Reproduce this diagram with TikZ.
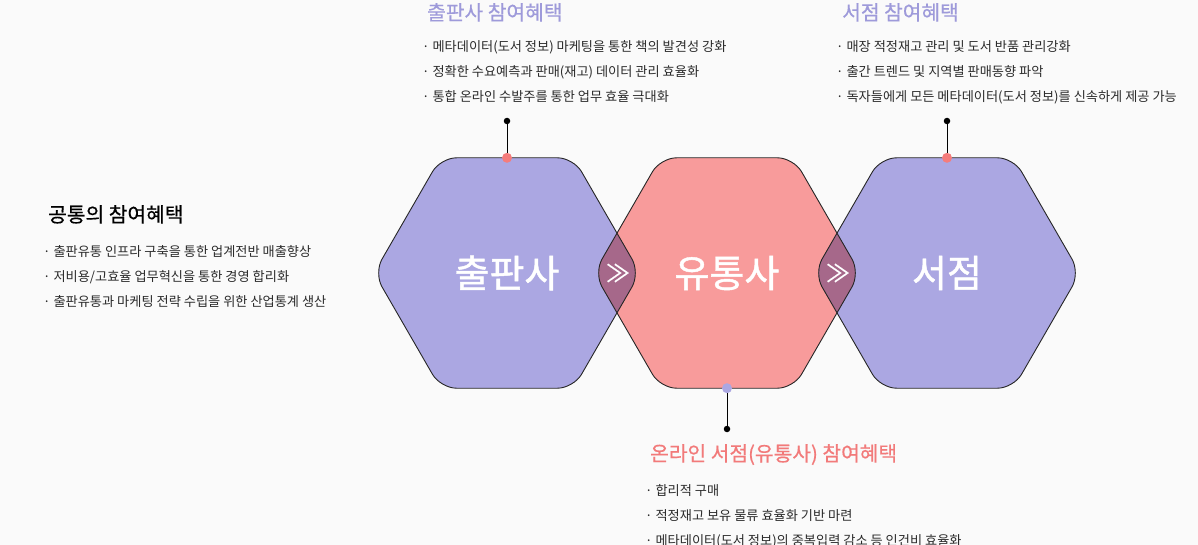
\documentclass[tikz,border=0pt]{standalone}
\usepackage{fontspec}
\newfontfamily\kr{Noto Sans CJK KR}
\newfontfamily\krm[FakeBold=0.5]{Noto Sans CJK KR}
\newfontfamily\krb[FakeBold=1.2]{Noto Sans CJK KR}
\usetikzlibrary{positioning,calc}
\definecolor{hexlav}{HTML}{ABA7E2}
\definecolor{hexpink}{HTML}{F89B9B}
\definecolor{hexmix}{HTML}{A6688A}
\definecolor{ttllav}{HTML}{9E9ADA}
\definecolor{ttlpink}{HTML}{F27A7A}
\definecolor{dotpink}{HTML}{F47C7C}
\definecolor{bgc}{HTML}{FAFAFA}
\definecolor{txt}{HTML}{2B2B2B}
\tikzset{ttl/.style={anchor=base west, inner sep=0, font=\krm\fontsize{20.3}{22}\selectfont}}
\tikzset{bul/.style={anchor=base west, inner sep=0, text=txt, font=\kr\fontsize{13.2}{15}\selectfont}}
\tikzset{hexlabel/.style={text=white, inner sep=0, font=\krb\fontsize{38}{42}\selectfont}}
\tikzset{chev/.style={text=white, inner sep=0, font=\krm\fontsize{24}{26}\selectfont}}
\tikzset{dotc/.style={circle, fill=#1, inner sep=0, minimum size=10pt}}
\tikzset{dotk/.style={circle, fill=black, inner sep=0, minimum size=6.5pt}}
\tikzset{arr0/.style={draw, line width=1pt}}
\tikzset{hexline/.style={draw=black!85, line width=0.9pt}}
\newcommand{\hexat}[1]{[rounded corners=16pt] ($(#1)+(0,-115.2)$) -- ($(#1)+(66.5,-115.2)$) -- ($(#1)+(133,0)$) -- ($(#1)+(66.5,115.2)$) -- ($(#1)+(-66.5,115.2)$) -- ($(#1)+(-133,0)$) -- ($(#1)+(-66.5,-115.2)$) -- cycle}
\begin{document}
\begin{tikzpicture}[x=1pt, y=-1pt]
	\fill[bgc] (0,0) rectangle (1198,545);
	\useasboundingbox (0,0) rectangle (1198,545);
	\coordinate (pub) at (507,273);
	\coordinate (dist) at (727,273);
	\coordinate (shop) at (947,273);
	% hexagons
	\fill[hexlav] \hexat{pub};
	\fill[hexpink] \hexat{dist};
	\fill[hexlav] \hexat{shop};
	\begin{scope}
		\clip \hexat{dist};
		\fill[hexmix] \hexat{pub};
		\fill[hexmix] \hexat{shop};
	\end{scope}
	\draw[hexline] \hexat{pub};
	\draw[hexline] \hexat{dist};
	\draw[hexline] \hexat{shop};
	\node[hexlabel] (publbl) at (pub) {출판사};
	\node[hexlabel] (distlbl) at (dist) {유통사};
	\node[hexlabel] (shoplbl) at (shop) {서점};
	\node[chev] (chev1) at ($(pub)!0.5!(dist)+(1,0)$) {≫};
	\node[chev] (chev2) at ($(dist)!0.5!(shop)+(1,0)$) {≫};
	% callout lines
	\node[dotk] (pubend) at (507,121) {};
	\node[dotc=dotpink] (pubdot) at ($(pub)+(0,-115.2)$) {};
	\draw[arr0] (pubend) -- (pubdot);
	\node[dotk] (shopend) at (947,121) {};
	\node[dotc=dotpink] (shopdot) at ($(shop)+(0,-115.2)$) {};
	\draw[arr0] (shopend) -- (shopdot);
	\node[dotk] (distend) at (727,429) {};
	\node[dotc=hexlav] (distdot) at ($(dist)+(0,115.2)$) {};
	\draw[arr0] (distend) -- (distdot);
	% publisher texts
	\node[ttl, text=ttllav] (pubttl) at (427,20) {출판사 참여혜택};
	\node[bul] (pubb1) at (422,52) {· 메타데이터(도서 정보) 마케팅을 통한 책의 발견성 강화};
	\node[bul] (pubb2) at (422,77) {· 정확한 수요예측과 판매(재고) 데이터 관리 효율화};
	\node[bul] (pubb3) at (422,102) {· 통합 온라인 수발주를 통한 업무 효율 극대화};
	% bookstore texts
	\node[ttl, text=ttllav] (shopttl) at (842,20) {서점 참여혜택};
	\node[bul] (shopb1) at (836,52) {· 매장 적정재고 관리 및 도서 반품 관리강화};
	\node[bul] (shopb2) at (836,77) {· 출간 트렌드 및 지역별 판매동향 파악};
	\node[bul] (shopb3) at (836,102) {· 독자들에게 모든 메타데이터(도서 정보)를 신속하게 제공 가능};
	% common texts
	\node[ttl, text=black] (comttl) at (48,222) {공통의 참여혜택};
	\node[bul] (comb1) at (43,256) {· 출판유통 인프라 구축을 통한 업계전반 매출향상};
	\node[bul] (comb2) at (43,281) {· 저비용/고효율 업무혁신을 통한 경영 합리화};
	\node[bul] (comb3) at (43,306) {· 출판유통과 마케팅 전략 수립을 위한 산업통계 생산};
	% online store texts
	\node[ttl, text=ttlpink] (distttl) at (650,461) {온라인 서점(유통사) 참여혜택};
	\node[bul] (distb1) at (645,495) {· 합리적 구매};
	\node[bul] (distb2) at (645,520) {· 적정재고 보유 물류 효율화 기반 마련};
	\node[bul] (distb3) at (645,545) {· 메타데이터(도서 정보)의 중복입력 감소 등 인건비 효율화};
\end{tikzpicture}
\end{document}
